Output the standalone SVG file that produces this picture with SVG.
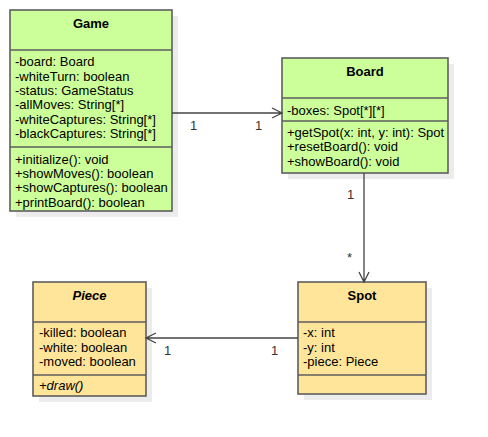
<svg xmlns="http://www.w3.org/2000/svg" width="488" height="437" viewBox="0 0 488 437">
<style>
text{font-family:"Liberation Sans",Arial,sans-serif;font-size:13px;fill:#000}
.t{font-weight:bold;text-anchor:middle}
.i{font-style:italic}
.sh{fill:#ececec}
.g{fill:#ccff99;stroke:#5e5e5e;stroke-width:1.6}
.y{fill:#ffe599;stroke:#5e5e5e;stroke-width:1.6}
.d{stroke:#5e5e5e;stroke-width:1.6;fill:none}
.c{stroke:#444;stroke-width:1.3;fill:none}
.l{fill:#333}
</style>
<rect width="488" height="437" fill="#fff"/>
<g id="Game">
<rect class="sh" x="16" y="16" width="162" height="201"/>
<rect class="g" x="10" y="10" width="162" height="201"/>
<path class="d" d="M10 50H172M10 147H172"/>
<text class="t" x="91" y="28">Game</text>
<text x="15" y="66">-board: Board</text>
<text x="15" y="80.5">-whiteTurn: boolean</text>
<text x="15" y="94.5">-status: GameStatus</text>
<text x="15" y="109">-allMoves: String[*]</text>
<text x="15" y="123.5">-whiteCaptures: String[*]</text>
<text x="15" y="137.5">-blackCaptures: String[*]</text>
<text x="15" y="163.5">+initialize(): void</text>
<text x="15" y="177.5">+showMoves(): boolean</text>
<text x="15" y="192">+showCaptures(): boolean</text>
<text x="15" y="206.5">+printBoard(): boolean</text>
</g>
<g id="Board">
<rect class="sh" x="288" y="64" width="166" height="115"/>
<rect class="g" x="282" y="58" width="166" height="115"/>
<path class="d" d="M282 98H448M282 121H448"/>
<text class="t" x="365" y="75.5">Board</text>
<text x="287" y="114.5">-boxes: Spot[*][*]</text>
<text x="287" y="136.5">+getSpot(x: int, y: int): Spot</text>
<text x="287" y="151">+resetBoard(): void</text>
<text x="287" y="165.5">+showBoard(): void</text>
</g>
<g id="Spot">
<rect class="sh" x="304" y="288" width="128" height="112"/>
<rect class="y" x="298" y="282" width="128" height="112"/>
<path class="d" d="M298 322H426M298 375H426"/>
<text class="t" x="362" y="299.5">Spot</text>
<text x="303" y="337">-x: int</text>
<text x="303" y="351.5">-y: int</text>
<text x="303" y="365.5">-piece: Piece</text>
</g>
<g id="Piece">
<rect class="sh" x="39" y="288" width="113" height="114"/>
<rect class="y" x="33" y="282" width="113" height="114"/>
<path class="d" d="M33 322H146M33 375H146"/>
<text class="t i" x="89.5" y="299.5">Piece</text>
<text x="39" y="337">-killed: boolean</text>
<text x="39" y="351.5">-white: boolean</text>
<text x="39" y="365.5">-moved: boolean</text>
<text class="i" x="39" y="389.5">+draw()</text>
</g>
<g id="connectors">
<path class="c" d="M172 113H281M272 108L282 113L272 118"/>
<path class="c" d="M364 173V281M359 272L364 282L369 272"/>
<path class="c" d="M298 338H147M156 333L146 338L156 343"/>
<text class="l" x="190" y="129.5">1</text>
<text class="l" x="255" y="129.5">1</text>
<text class="l" x="347" y="198.5">1</text>
<text class="l" x="347" y="261.5">*</text>
<text class="l" x="164" y="354.5">1</text>
<text class="l" x="271" y="354.5">1</text>
</g>
</svg>
